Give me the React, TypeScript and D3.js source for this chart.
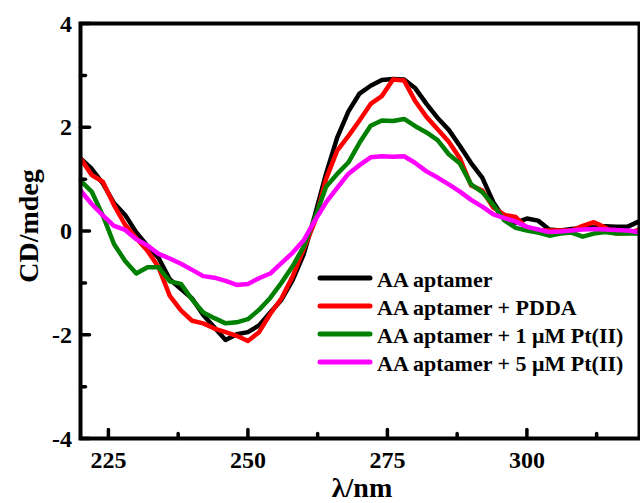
import React from "react";
import * as d3 from "d3";

// wavelength samples (nm)
const wavelengths = [
  220, 222, 224, 226, 228, 230, 232, 234, 236, 238, 240, 242, 244, 246, 248, 250,
  252, 254, 256, 258, 260, 262, 264, 266, 268, 270, 272, 274, 276, 278, 280, 282,
  284, 286, 288, 290, 292, 294, 296, 298, 300, 302, 304, 306, 308, 310, 312, 314,
  316, 318, 320,
];

// CD signal (mdeg)
const aptamer = [
  1.4, 1.2, 0.92, 0.54, 0.31, -0.03, -0.29, -0.52, -0.93, -1.12, -1.3, -1.62, -1.86, -2.1, -1.99, -1.95,
  -1.82, -1.57, -1.33, -0.95, -0.45, 0.3, 1.1, 1.8, 2.3, 2.65, 2.8, 2.91, 2.93, 2.92, 2.75, 2.45,
  2.18, 1.95, 1.64, 1.31, 1.03, 0.55, 0.22, 0.16, 0.24, 0.2, 0.03, 0.01, 0.04, 0.06, 0.07, 0.09,
  0.08, 0.08, 0.18,
];
const aptamerPDDA = [
  1.4, 1.08, 0.95, 0.5, 0.12, -0.14, -0.38, -0.7, -1.25, -1.53, -1.73, -1.78, -1.88, -1.95, -2.02, -2.12,
  -1.95, -1.6, -1.3, -0.88, -0.35, 0.18, 1.0, 1.55, 1.83, 2.13, 2.45, 2.6, 2.92, 2.9, 2.5, 2.2,
  1.96, 1.72, 1.4, 0.88, 0.78, 0.45, 0.31, 0.27, 0.05, 0.01, 0.01, 0.01, 0.01, 0.1, 0.17, 0.07,
  -0.05, -0.04, 0.02,
];
const aptamerPt1 = [
  0.97, 0.76, 0.3, -0.25, -0.58, -0.82, -0.7, -0.7, -0.97, -1.02, -1.32, -1.57, -1.68, -1.78, -1.76, -1.7,
  -1.52, -1.29, -1.0, -0.68, -0.3, 0.25, 0.85, 1.1, 1.32, 1.7, 2.03, 2.13, 2.12, 2.16, 2.02, 1.9,
  1.75, 1.48, 1.3, 0.9, 0.75, 0.5, 0.2, 0.06, 0.01, -0.03, -0.09, -0.05, -0.03, -0.11, -0.05, -0.02,
  -0.05, -0.05, -0.05,
];
const aptamerPt5 = [
  0.78, 0.52, 0.3, 0.1, 0.02, -0.16, -0.28, -0.44, -0.53, -0.63, -0.75, -0.87, -0.9, -0.96, -1.04, -1.02,
  -0.91, -0.82, -0.62, -0.42, -0.18, 0.2, 0.55, 0.83, 1.1, 1.27, 1.42, 1.44, 1.43, 1.44, 1.31, 1.15,
  1.03, 0.9, 0.76, 0.6, 0.47, 0.32, 0.25, 0.18, 0.08, 0.03, -0.02, -0.01, 0.01, 0.03, 0.04, 0.03,
  0.02, 0.01, -0.02,
];

const seriesNames = [
  "AA aptamer",
  "AA aptamer + PDDA",
  "AA aptamer + 1 μM Pt(II)",
  "AA aptamer + 5 μM Pt(II)",
];
const seriesColors = ["#000000", "#ff0000", "#008000", "#ff00ff"];
const seriesValues = [aptamer, aptamerPDDA, aptamerPt1, aptamerPt5];

const xTicks = [225, 250, 275, 300];
const xMinorTicks = [237.5, 262.5, 287.5, 312.5];
const yTicks = [-4, -2, 0, 2, 4];
const yMinorTicks = [-3, -1, 1, 3];

const W = 640;
const H = 503;
const txt: React.CSSProperties = {
  fontFamily: "'Liberation Serif', 'Times New Roman', serif",
  fontWeight: "bold",
};

export default function App() {
  const x = d3.scaleLinear().domain([220, 320]).range([80.5, 638.5]);
  const y = d3.scaleLinear().domain([-4, 4]).range([438.5, 23.5]);

  const line = d3
    .line<number>()
    .x((_, i) => x(wavelengths[i]))
    .y((d) => y(d));

  const [x0, x1] = x.range();
  const [yb, yt] = y.range();

  return (
    <svg
      width={W}
      height={H}
      style={{ position: "absolute", left: 0, top: 0, background: "#fff" }}
    >
      <defs>
        <clipPath id="plot">
          <rect x={x0} y={yt} width={x1 - x0} height={yb - yt} />
        </clipPath>
      </defs>

      {/* curves */}
      <g clipPath="url(#plot)">
        {seriesValues.map((vals, i) => (
          <path
            key={seriesNames[i]}
            d={line(vals) || ""}
            fill="none"
            stroke={seriesColors[i]}
            strokeWidth={4.5}
            strokeLinejoin="round"
            strokeLinecap="round"
          />
        ))}
      </g>

      {/* frame */}
      <rect x={x0} y={yt} width={x1 - x0 + 1} height={yb - yt} fill="none" stroke="#000" strokeWidth={4} />

      {/* x ticks */}
      {xTicks.map((t) => (
        <g key={"xt" + t}>
          <line x1={x(t)} x2={x(t)} y1={yb} y2={yb - 9} stroke="#000" strokeWidth={3.5} strokeLinecap="round" />
          <text x={x(t)} y={468} textAnchor="middle" fontSize={24} style={txt}>
            {t}
          </text>
        </g>
      ))}
      {xMinorTicks.map((t) => (
        <line key={"xm" + t} x1={x(t)} x2={x(t)} y1={yb} y2={yb - 5} stroke="#000" strokeWidth={3.5} strokeLinecap="round" />
      ))}

      {/* y ticks */}
      {yTicks.map((t) => (
        <g key={"yt" + t}>
          <line x1={x0} x2={x0 + 9} y1={y(t)} y2={y(t)} stroke="#000" strokeWidth={3.5} strokeLinecap="round" />
          <text x={72} y={y(t)} dy="0.34em" textAnchor="end" fontSize={24} style={txt}>
            {t}
          </text>
        </g>
      ))}
      {yMinorTicks.map((t) => (
        <line key={"ym" + t} x1={x0} x2={x0 + 5} y1={y(t)} y2={y(t)} stroke="#000" strokeWidth={3.5} strokeLinecap="round" />
      ))}

      {/* axis titles */}
      <text x={362} y={497} textAnchor="middle" fontSize={28} style={txt}>
        λ/nm
      </text>
      <text transform="translate(38,226) rotate(-90)" textAnchor="middle" fontSize={28} style={txt}>
        CD/mdeg
      </text>

      {/* legend */}
      {seriesNames.map((name, i) => (
        <g key={"lg" + name} transform={`translate(0,${278 + i * 28})`}>
          <line x1={320} x2={370} y1={0} y2={0} stroke={seriesColors[i]} strokeWidth={5} strokeLinecap="round" />
          <text x={377} y={9} fontSize={22} style={txt}>
            {name}
          </text>
        </g>
      ))}
    </svg>
  );
}
